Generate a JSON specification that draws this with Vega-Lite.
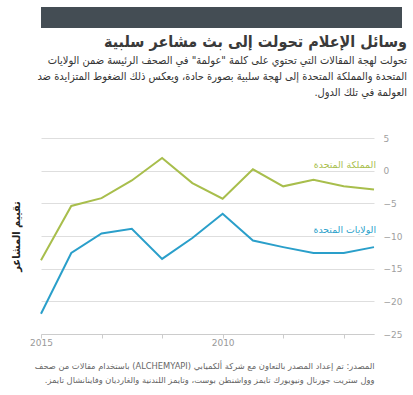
{
  "$schema": "https://vega.github.io/schema/vega-lite/v6.json",
  "padding": {"left": 10, "right": 8, "top": 7, "bottom": 5},
  "background": "white",
  "config": {"font": "DejaVu Sans", "view": {"stroke": null}, "concat": {"spacing": 6}},
  "datasets": {
    "lines": [
      {"i": 0, "series": "UK", "score": -13.7},
      {"i": 1, "series": "UK", "score": -5.4},
      {"i": 2, "series": "UK", "score": -4.2},
      {"i": 3, "series": "UK", "score": -1.5},
      {"i": 4, "series": "UK", "score": 1.95},
      {"i": 5, "series": "UK", "score": -1.9},
      {"i": 6, "series": "UK", "score": -4.3},
      {"i": 7, "series": "UK", "score": 0.2},
      {"i": 8, "series": "UK", "score": -2.4},
      {"i": 9, "series": "UK", "score": -1.4},
      {"i": 10, "series": "UK", "score": -2.4},
      {"i": 11, "series": "UK", "score": -2.9},
      {"i": 0, "series": "US", "score": -21.9},
      {"i": 1, "series": "US", "score": -12.6},
      {"i": 2, "series": "US", "score": -9.6},
      {"i": 3, "series": "US", "score": -8.9},
      {"i": 4, "series": "US", "score": -13.5},
      {"i": 5, "series": "US", "score": -10.3},
      {"i": 6, "series": "US", "score": -6.6},
      {"i": 7, "series": "US", "score": -10.7},
      {"i": 8, "series": "US", "score": -11.7},
      {"i": 9, "series": "US", "score": -12.6},
      {"i": 10, "series": "US", "score": -12.6},
      {"i": 11, "series": "US", "score": -11.7}
    ],
    "labels": [
      {"i": 11, "series": "UK", "score": 0.9, "label": "المملكة المتحدة"},
      {"i": 11, "series": "US", "score": -9.1, "label": "الولايات المتحدة"}
    ],
    "bar": [{"k": 1}]
  },
  "vconcat": [
    {
      "width": 361,
      "height": 21,
      "view": {"fill": "#444d54", "stroke": null},
      "data": {"name": "bar"},
      "mark": {"type": "point", "opacity": 0},
      "encoding": {}
    },
    {
      "width": 333,
      "height": 196,
      "title": {
        "text": "وسائل الإعلام تحولت إلى بث مشاعر سلبية",
        "subtitle": [
          "‫تحولت لهجة المقالات التي تحتوي على كلمة \"عولمة\" في الصحف الرئيسة ضمن الولايات‬",
          "‫المتحدة والمملكة المتحدة إلى لهجة سلبية بصورة حادة، ويعكس ذلك الضغوط المتزايدة ضد‬",
          "‫العولمة في تلك الدول.‬"
        ],
        "anchor": "end",
        "align": "right",
        "frame": "bounds",
        "dx": 5,
        "font": "DejaVu Sans Condensed",
        "fontSize": 16,
        "fontWeight": "bold",
        "color": "#3a3a3a",
        "subtitleFont": "DejaVu Sans Condensed",
        "subtitleFontSize": 11,
        "subtitleColor": "#333333",
        "subtitleLineHeight": 16,
        "subtitlePadding": 5,
        "offset": 36
      },
      "layer": [
        {
          "data": {"name": "lines"},
          "mark": {"type": "line", "strokeWidth": 2},
          "encoding": {
            "x": {
              "field": "i",
              "type": "quantitative",
              "scale": {"domain": [0, 11], "nice": false, "zero": false},
              "axis": {
                "values": [0, 1, 2, 3, 4, 5, 6, 7, 8, 9, 10, 11],
                "labelExpr": "datum.value == 0 ? '2015' : datum.value == 6 ? '2010' : datum.value == 11 ? '2005' : ''",
                "labelFlush": false,
                "labelOverlap": false,
                "grid": false,
                "domainColor": "#cccccc",
                "tickColor": "#cccccc",
                "tickSize": 4,
                "labelColor": "#999999",
                "labelFontSize": 9,
                "labelPadding": 0,
                "title": [
                  "‫المصدر: تم إعداد المصدر بالتعاون مع شركة ألكميابي (ALCHEMYAPI) باستخدام مقالات من صحف‬",
                  "‫وول ستريت جورنال ونيويورك تايمز وواشنطن بوست، وتايمز اللندنية والغارديان وفاينانشال تايمز.‬"
                ],
                "titleAnchor": "end",
                "titleAlign": "right",
                "titleFontSize": 8.3,
                "titleFontWeight": "normal",
                "titleColor": "#666666",
                "titleLineHeight": 14,
                "titlePadding": 14
              }
            },
            "y": {
              "field": "score",
              "type": "quantitative",
              "scale": {"domain": [-25, 5], "nice": false, "zero": false},
              "axis": {
                "orient": "right",
                "values": [5, 0, -5, -10, -15, -20, -25],
                "format": "d",
                "title": null,
                "domain": false,
                "ticks": false,
                "labelPadding": 9,
                "labelAlign": "left",
                "labelColor": "#a0a0a0",
                "labelFontSize": 9,
                "gridColor": "#dedede"
              }
            },
            "color": {
              "field": "series",
              "type": "nominal",
              "scale": {"domain": ["UK", "US"], "range": ["#a8be4c", "#2a9fca"]},
              "legend": null
            }
          }
        },
        {
          "data": {"name": "labels"},
          "mark": {"type": "text", "align": "right", "baseline": "middle", "fontSize": 9.4, "dx": 2},
          "encoding": {
            "x": {"field": "i", "type": "quantitative"},
            "y": {
              "field": "score",
              "type": "quantitative",
              "scale": {"domain": [-25, 5], "nice": false, "zero": false},
              "axis": {
                "orient": "left",
                "title": "تقييم المشاعر",
                "titleFont": "DejaVu Sans Condensed",
                "titleFontSize": 11,
                "titleFontWeight": "bold",
                "titleColor": "#222222",
                "labels": false,
                "ticks": false,
                "domain": false,
                "grid": false,
                "titlePadding": 20
              }
            },
            "text": {"field": "label"},
            "color": {"field": "series", "type": "nominal", "legend": null}
          }
        }
      ],
      "resolve": {"axis": {"y": "independent"}}
    }
  ]
}
